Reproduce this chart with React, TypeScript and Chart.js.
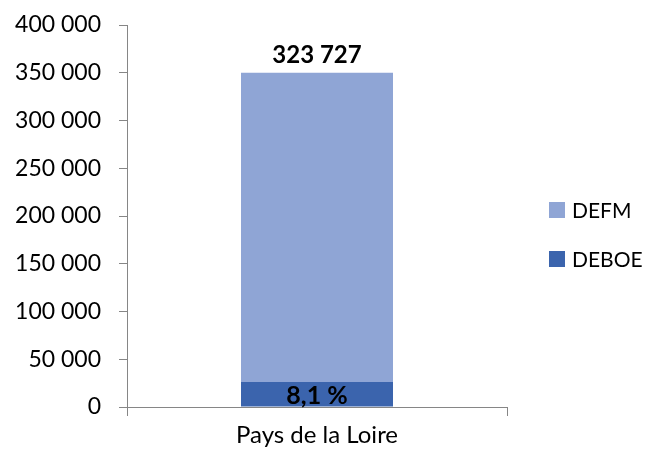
import React, { useEffect, useRef } from "react";
import { Chart, registerables } from "chart.js";

Chart.register(...registerables);

const categories = ["Pays de la Loire"];
const seriesNames = ["DEBOE", "DEFM"];
const deboeValues = [26222];
const defmValues = [323727];
const yTicks = [0, 50000, 100000, 150000, 200000, 250000, 300000, 350000, 400000];
const topLabels = ["323 727"];
const pctLabels = ["8,1 %"];

const COLOR_DEBOE = "#3B64AD";
const COLOR_DEFM = "#8FA5D5";
const FONT = "Lato";

const fmt = (v: number) => String(v).replace(/\B(?=(\d{3})+(?!\d))/g, " ");

const labelsPlugin = {
  id: "customLabels",
  afterDatasetsDraw(chart: any) {
    const ctx = chart.ctx;
    ctx.save();
    ctx.fillStyle = "#000";
    ctx.textAlign = "center";
    ctx.textBaseline = "middle";
    ctx.font = `bold 24px ${FONT}`;
    const top = chart.getDatasetMeta(1);
    top.data.forEach((bar: any, i: number) => {
      ctx.fillText(topLabels[i], bar.x, bar.y - 18);
    });
    ctx.font = `bold 25px ${FONT}`;
    const bottom = chart.getDatasetMeta(0);
    bottom.data.forEach((bar: any, i: number) => {
      ctx.fillText(pctLabels[i], bar.x, (bar.y + bar.base) / 2 + 2);
    });
    ctx.restore();
  },
};

const legendPlugin = {
  id: "customLegend",
  afterDraw(chart: any) {
    const ctx = chart.ctx;
    ctx.save();
    ctx.font = `21px ${FONT}`;
    ctx.textBaseline = "middle";
    ctx.textAlign = "left";
    const items = [1, 0];
    items.forEach((dsIndex, k) => {
      const ds = chart.data.datasets[dsIndex];
      const cy = 210 + k * 49;
      ctx.fillStyle = ds.backgroundColor;
      ctx.fillRect(549, cy - 8, 16, 16);
      ctx.fillStyle = "#000";
      ctx.fillText(ds.label, 572, cy + 1);
    });
    ctx.restore();
  },
};

export default function App() {
  const ref = useRef<HTMLCanvasElement | null>(null);
  useEffect(() => {
    if (!ref.current) return;
    const chart = new Chart(ref.current, {
      type: "bar",
      data: {
        labels: categories,
        datasets: [
          { label: seriesNames[0], data: deboeValues, backgroundColor: COLOR_DEBOE },
          { label: seriesNames[1], data: defmValues, backgroundColor: COLOR_DEFM },
        ],
      },
      options: {
        animation: false,
        responsive: false,
        events: [],
        layout: { padding: { top: 25, right: 139, left: 0, bottom: 0 } },
        plugins: { legend: { display: false }, tooltip: { enabled: false } },
        datasets: { bar: { barPercentage: 0.4, categoryPercentage: 1 } },
        scales: {
          x: {
            stacked: true,
            grid: {
              offset: true,
              drawOnChartArea: false,
              drawTicks: true,
              tickLength: 9,
              color: "#868686",
            },
            border: { display: true, color: "#868686" },
            ticks: { color: "#000", font: { family: FONT, size: 24 }, padding: 5 },
            afterFit(scale: any) {
              scale.height = 45;
              scale.paddingLeft = 0;
              scale.paddingRight = 0;
            },
          },
          y: {
            stacked: true,
            min: 0,
            max: 400000,
            afterBuildTicks(scale: any) {
              scale.ticks = yTicks.map((v) => ({ value: v }));
            },
            grid: {
              drawOnChartArea: false,
              drawTicks: true,
              tickLength: 8,
              color: "#868686",
            },
            border: { display: true, color: "#868686" },
            ticks: {
              color: "#000",
              font: { family: FONT, size: 23 },
              padding: 18,
              callback: (v: any) => fmt(Number(v)),
            },
            afterFit(scale: any) {
              scale.width = 127;
              scale.paddingTop = 0;
              scale.paddingBottom = 0;
            },
          },
        },
      },
      plugins: [labelsPlugin, legendPlugin],
    });
    return () => chart.destroy();
  }, []);
  return (
    <div style={{ position: "fixed", left: 0, top: 0, width: 646, height: 452, background: "#fff" }}>
      <canvas ref={ref} width={646} height={452} style={{ width: 646, height: 452 }} />
    </div>
  );
}
